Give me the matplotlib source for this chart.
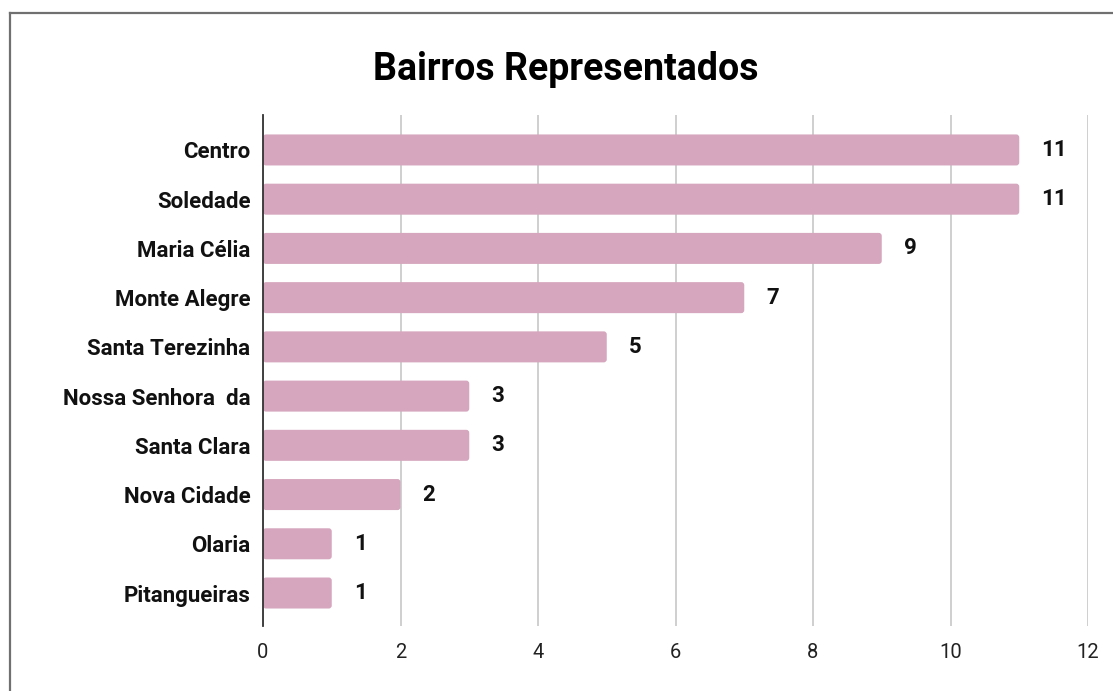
import matplotlib
matplotlib.use("Agg")
import matplotlib.pyplot as plt
from matplotlib.patches import FancyBboxPatch
from matplotlib.lines import Line2D

categories = ["Centro", "Soledade", "Maria Célia", "Monte Alegre", "Santa Terezinha",
              "Nossa Senhora  da", "Santa Clara", "Nova Cidade", "Olaria", "Pitangueiras"]
values = [11, 11, 9, 7, 5, 3, 3, 2, 1, 1]
x_ticks = [0, 2, 4, 6, 8, 10, 12]
title = "Bairros Representados"

plt.rcParams['font.family'] = ['Roboto', 'DejaVu Sans']

W, H = 1113, 691
fig = plt.figure(figsize=(W / 100, H / 100), dpi=100)
ax = fig.add_axes([263 / W, 1 - 626 / H, (1088 - 263) / W, (626 - 115) / H])

bar_color = "#d5a6bd"
bar_h = 0.63
ypos = list(range(len(categories)))
bars = ax.barh(ypos, values, height=bar_h, color=bar_color)
# replace with slightly rounded bars
xpx = (1088 - 263) / 12.0
ypx = 49.2
for b in bars:
    x0, y0 = b.get_x(), b.get_y()
    w, h = b.get_width(), b.get_height()
    b.set_visible(False)
    p = FancyBboxPatch((x0, y0), w, h,
                       boxstyle="round,pad=0,rounding_size=%f" % (3 / xpx),
                       mutation_aspect=xpx / ypx,
                       facecolor=bar_color, edgecolor="none", zorder=2)
    ax.add_patch(p)

for y, v in zip(ypos, values):
    ax.annotate(str(v), (v, y), xytext=(16, 0), textcoords="offset points",
                ha="left", va="center", fontsize=16, fontweight="bold", color="#111111")

ax.set_xlim(0, 12)
ax.set_ylim(9.67, -0.71)
ax.set_xticks(x_ticks)
ax.set_xticklabels([str(t) for t in x_ticks], fontsize=14.5, color="#222222")
ax.set_yticks(ypos)
ax.set_yticklabels(categories, fontsize=16, fontweight="bold", color="#111111")
ax.tick_params(axis="both", length=0)
ax.tick_params(axis="y", pad=9)
ax.tick_params(axis="x", pad=12)
ax.xaxis.grid(True, color="#cccccc", linewidth=1.3)
ax.set_axisbelow(True)
for s in ["top", "right", "bottom"]:
    ax.spines[s].set_visible(False)
ax.spines["left"].set_color("#333333")
ax.spines["left"].set_linewidth(1.3)
ax.spines["left"].set_zorder(3)

fig.text(566 / W, 1 - 70 / H, title, ha="center", va="center",
         fontsize=27, fontweight="bold", color="#000000")

bx, by = 9.5 / W, 1 - 13 / H
fig.add_artist(Line2D([bx, 1.01], [by, by], transform=fig.transFigure,
                      color="#707070", linewidth=1.6))
fig.add_artist(Line2D([bx, bx], [by, -0.01], transform=fig.transFigure,
                      color="#707070", linewidth=1.6))

fig.savefig("out.png", dpi=100, facecolor="white")
